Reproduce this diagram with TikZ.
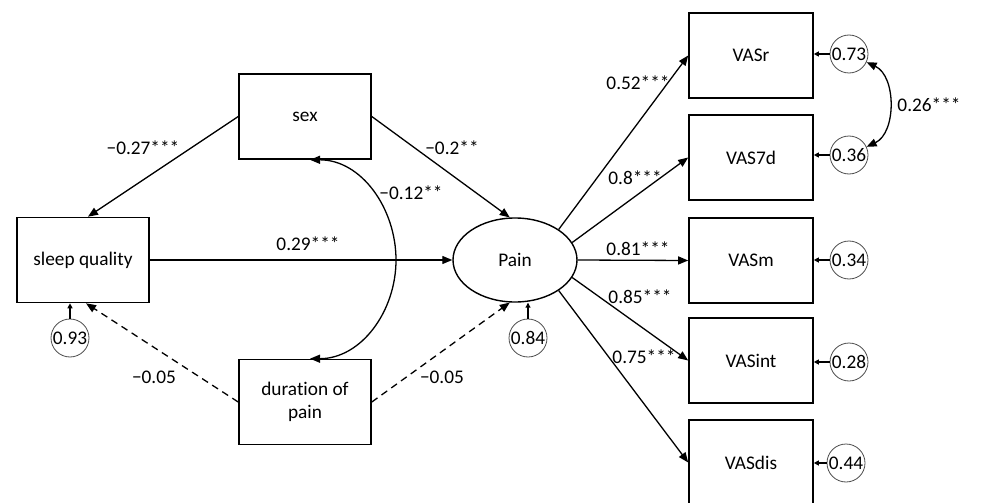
\documentclass[tikz,border=0pt]{standalone}
\usepackage{fontspec}
\setmainfont{Carlito}[Ligatures={NoCommon}]
\usetikzlibrary{arrows.meta,shapes.geometric,calc}
\begin{document}
\begin{tikzpicture}[x=1pt,y=1pt,
  font=\fontsize{19.3}{23}\selectfont,
  box/.style={draw,line width=1.6pt,minimum width=132pt,minimum height=85pt,inner sep=0pt,align=center},
  vbox/.style={draw,line width=1.6pt,minimum width=124pt,minimum height=85pt,inner sep=0pt},
  lat/.style={draw,ellipse,line width=1.4pt,minimum width=124pt,minimum height=84pt,inner sep=0pt},
  err/.style={draw,circle,draw=black!70,line width=0.8pt,minimum size=38pt,inner sep=0pt},
  path/.style={line width=1.3pt,-{Triangle[length=10pt,width=8pt]}},
  dpath/.style={path,dash pattern=on 7pt off 5pt},
  cov/.style={line width=1.3pt,{Triangle[length=10pt,width=8pt]}-{Triangle[length=10pt,width=8pt]}},
  eath/.style={line width=1.1pt,-{Triangle[length=5pt,width=5pt]}},
  lab/.style={inner sep=0pt}]
\useasboundingbox (0,0) rectangle (1002,-503);
% nodes
\node[box] (sex) at (305,-116.5) {sex};
\node[box] (sq) at (83,-260) {sleep quality};
\node[box] (dur) at (305,-402) {duration of\\pain};
\node[lat] (pain) at (515,-260) {Pain};
\node[vbox] (vr) at (751,-55.5) {VASr};
\node[vbox] (v7) at (751,-157.5) {VAS7d};
\node[vbox] (vm) at (751,-260.5) {VASm};
\node[vbox] (vi) at (751,-360.5) {VASint};
\node[vbox] (vd) at (751,-462.5) {VASdis};
\node[err] (e93) at (70,-338) {0.93};
\node[err] (e84) at (528,-338) {0.84};
\node[err] (e73) at (849,-54) {0.73};
\node[err] (e36) at (849,-155) {0.36};
\node[err] (e34) at (849,-260) {0.34};
\node[err] (e28) at (849,-362) {0.28};
\node[err] (e44) at (846,-463) {0.44};
\coordinate (cv) at (396,-260);
% structural paths
\draw[path] (sex.west) -- ([xshift=5pt]sq.north);
\draw[path] (sex.east) -- (pain.97);
\draw[path] (sq.east) -- (pain.west);
\draw[dpath] (dur.west) -- ([xshift=3pt]sq.south);
\draw[dpath] (dur.east) -- (pain.-97);
\draw[cov] ([xshift=5pt]sex.south) to[out=0,in=90] (cv) to[out=-90,in=0] ([xshift=5pt]dur.north);
% loadings
\draw[path] (pain.35) -- (vr.west);
\draw[path] (pain.17) -- (v7.west);
\draw[path] (pain.east) -- (vm.west);
\draw[path] (pain.-17) -- (vi.west);
\draw[path] (pain.-35) -- (vd.west);
% error arrows
\draw[eath] (e93.north) -- (e93.north |- sq.south);
\draw[eath] (e84.north) -- (e84.north |- pain.south);
\draw[eath] (e73.west) -- (e73.west -| vr.east);
\draw[eath] (e36.west) -- (e36.west -| v7.east);
\draw[eath] (e34.west) -- (e34.west -| vm.east);
\draw[eath] (e28.west) -- (e28.west -| vi.east);
\draw[eath] (e44.west) -- (e44.west -| vd.east);
\draw[cov] (e73.-25) to[bend left=65] (e36.25);
% labels
\node[lab] (l1) at (143,-148) {−0.27***};
\node[lab] (l2) at (452,-148) {−0.2**};
\node[lab] (l3) at (411,-193) {−0.12**};
\node[lab] (l4) at (308,-244) {0.29***};
\node[lab] (l5) at (154,-377) {−0.05};
\node[lab] (l6) at (442,-377) {−0.05};
\node[lab] (l7) at (638,-83) {0.52***};
\node[lab] (l8) at (635,-178) {0.8***};
\node[lab] (l9) at (638,-249) {0.81***};
\node[lab] (l10) at (640,-297) {0.85***};
\node[lab] (l11) at (644,-357) {0.75***};
\node[lab] (l12) at (929,-105) {0.26***};
\end{tikzpicture}
\end{document}
